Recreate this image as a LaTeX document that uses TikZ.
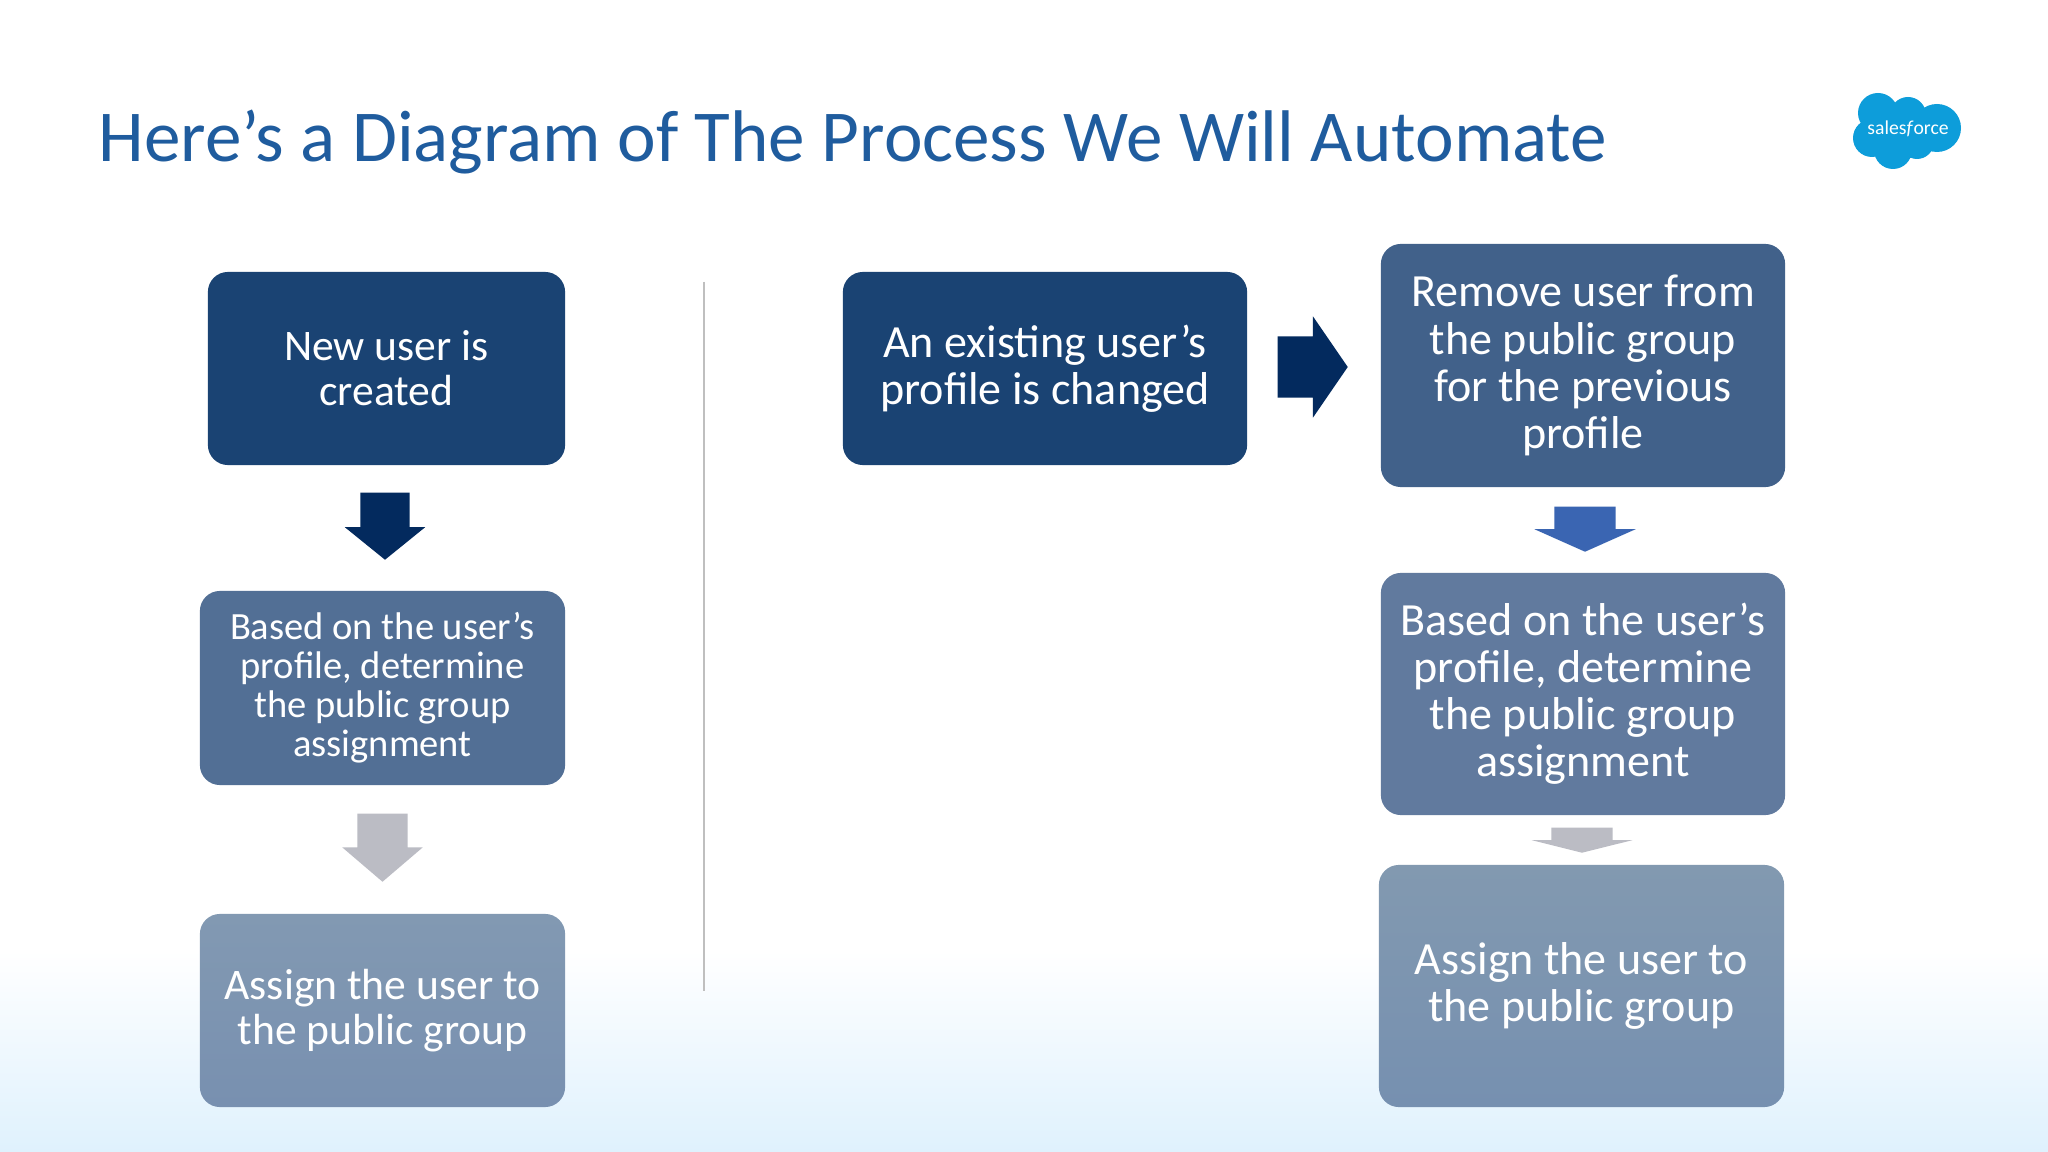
\documentclass[tikz,border=0pt]{standalone}
\usepackage{fontspec}
\setmainfont{Carlito}
\usetikzlibrary{positioning}
\usetikzlibrary{shapes,arrows}
\definecolor{titleblue}{HTML}{1F5C9E}
\definecolor{logoblue}{HTML}{0D9DDA}
\definecolor{skyblue}{HTML}{DFF1FD}
\definecolor{darkarrow}{HTML}{032A5E}
\definecolor{midarrow}{HTML}{3A65B2}
\definecolor{greyarrow}{HTML}{BBBCC4}
\tikzset{%
  block/.style    = {rectangle, rounded corners=0.2cm, text=white, align=center,
    inner sep=0pt},
  small/.style    = {font=\fontsize{10.96}{11.1}\selectfont},
  medium/.style   = {font=\fontsize{12.4}{12.8}\selectfont},
  large/.style    = {font=\fontsize{13.1}{13.4}\selectfont},
  % length, head width, shaft width, tip angle
  fatarrow/.style n args = {4}{single arrow, inner sep=0pt, anchor=tail,
    text height=#3, text depth=0pt, text width=0pt,
    minimum height=#1, minimum width=#2, single arrow head indent=0pt,
    single arrow tip angle=#4, single arrow head extend={(#2-#3)/2}}
}

\begin{document}
\begin{tikzpicture}[x=0.01cm, y=-0.01cm]

  \useasboundingbox (0,0) rectangle (2048,1152);
  \fill[white] (0,0) rectangle (2048,1152);
  \shade[top color=white, bottom color=skyblue] (0,950) rectangle (2048,1152);

  \node[text=titleblue, anchor=west, inner sep=0pt, font=\fontsize{20.8}{24}\selectfont] (title) at (98,142) {Here’s a Diagram of The Process We Will Automate};

  % logo
  \fill[logoblue] (1878,113) circle (20) (1908,115) circle (18) (1937,128) circle (24)
    (1872,138) circle (19) (1893,150) circle (19) (1917,142) circle (17) (1905,130) circle (25);
  \node[text=white, font=\fontsize{5.6}{8}\selectfont, inner sep=0pt] (logo) at (1908,129) {sales\textit{f}orce};

  \node[block, medium, fill={rgb,255:red,26;green,67;blue,115}, minimum width=3.57cm, minimum height=1.93cm] (created) at (386.5,368.5) {New user is\\created};
  \node[block, small, fill={rgb,255:red,82;green,111;blue,149}, minimum width=3.65cm, minimum height=1.94cm] (determine) at (382.5,688) {Based on the user’s\\profile, determine\\the public group\\assignment};
  \node[block, medium, top color={rgb,255:red,130;green,153;blue,178}, bottom color={rgb,255:red,120;green,144;blue,176}, minimum width=3.65cm, minimum height=1.93cm] (assign) at (382.5,1010.5) {Assign the user to\\the public group};

  \draw[black!25, line width=0.7pt] (704,282) -- (704,991);

  \node[block, large, fill={rgb,255:red,26;green,67;blue,115}, minimum width=4.04cm, minimum height=1.93cm] (changed) at (1045,368.5) {An existing user’s\\profile is changed};
  \node[block, large, fill={rgb,255:red,65;green,97;blue,138}, minimum width=4.04cm, minimum height=2.43cm] (remove) at (1583,365.5) {Remove user from\\the public group\\for the previous\\profile};
  \node[block, large, fill={rgb,255:red,97;green,122;blue,158}, minimum width=4.04cm, minimum height=2.42cm] (redetermine) at (1583,694) {Based on the user’s\\profile, determine\\the public group\\assignment};
  \node[block, large, top color={rgb,255:red,130;green,153;blue,176}, bottom color={rgb,255:red,118;green,144;blue,176}, minimum width=4.05cm, minimum height=2.42cm] (reassign) at (1581.5,986) {Assign the user to\\the public group};

  \node[fatarrow={0.67cm}{0.79cm}{0.48cm}{102}, fill=darkarrow, rotate=-90] (arrow1) at (385,492) {};
  \node[fatarrow={0.68cm}{0.79cm}{0.49cm}{99}, fill=greyarrow, rotate=-90] (arrow2) at (382.5,813) {};
  \node[fatarrow={0.70cm}{1.00cm}{0.60cm}{111}, fill=darkarrow] (arrow3) at (1277,367) {};
  \node[fatarrow={0.45cm}{1.00cm}{0.60cm}{132}, fill=midarrow, rotate=-90] (arrow4) at (1585,506) {};
  \node[fatarrow={0.25cm}{0.99cm}{0.60cm}{152}, fill=greyarrow, rotate=-90] (arrow5) at (1582,827) {};

\end{tikzpicture}
\end{document}
